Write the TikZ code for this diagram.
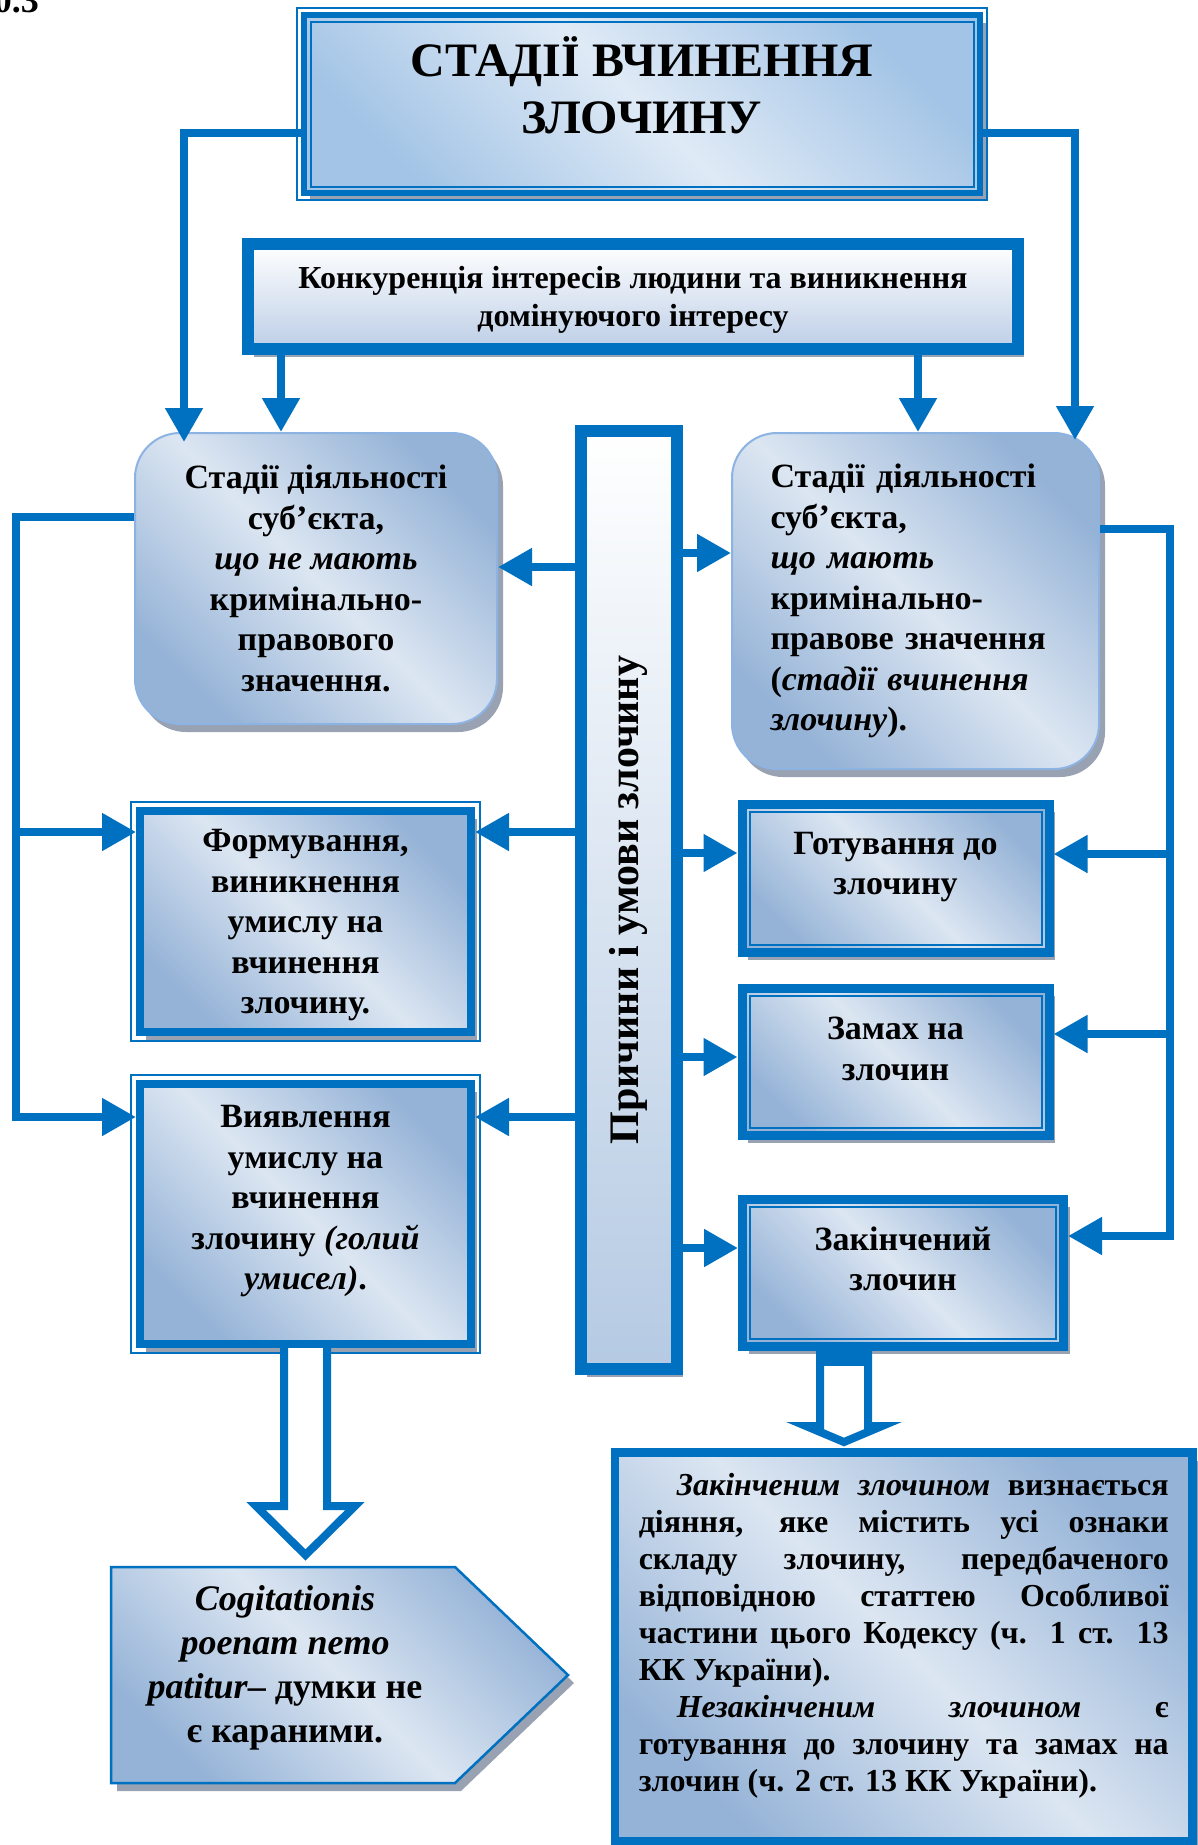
\documentclass[tikz,border=0pt]{standalone}
\usepackage{fontspec}
\setmainfont{Liberation Serif}
\usepackage{graphicx}
\usetikzlibrary{arrows.meta,shadows}

\definecolor{lineblue}{HTML}{0070C0}
\definecolor{edgeblue}{HTML}{8DB3E2}
\definecolor{deepfill}{HTML}{95B3D7}
\definecolor{paleblue}{HTML}{DCE6F2}
\definecolor{skyfill}{HTML}{A3C4E6}
\definecolor{skypale}{HTML}{DFEAF6}
\definecolor{konfill}{HTML}{BDCEE7}
\definecolor{shadowgray}{HTML}{98A2B2}

\tikzset{
  bluegrad/.style={left color=deepfill, right color=deepfill, middle color=paleblue, shading angle=-45},
  boxshadow/.style={drop shadow={shadow xshift=6pt, shadow yshift=-8pt, opacity=1, fill=shadowgray}},
  bodytext/.style={font=\bfseries\fontsize{34}{40.5}\selectfont, align=center, inner sep=0pt},
  stagebox/.style={bodytext, draw=edgeblue, line width=2pt, rounded corners=45pt, bluegrad, boxshadow},
  stepbox/.style={bodytext, draw=lineblue, line width=8pt, bluegrad, boxshadow},
  crimebox/.style={bodytext, draw=lineblue, line width=9pt, bluegrad, boxshadow},
  thinframe/.style={draw=lineblue, line width=2pt},
  conn/.style={draw=lineblue, line width=8pt, line join=miter, -{Triangle[length=34pt,width=36pt]}},
  hollow/.style={draw=lineblue, fill=white, line width=8pt, line join=miter}
}

\begin{document}
\begin{tikzpicture}[x=1pt,y=-1pt]
\useasboundingbox (0,0) rectangle (1198,1845);
\fill[white] (0,0) rectangle (1198,1845);

\node[anchor=base east, inner sep=0pt, font=\bfseries\fontsize{36}{40}\selectfont] (num) at (39,12) {0.3};

% title and the competing interests
\node[bodytext, font=\bfseries\fontsize{48}{57}\selectfont, draw=lineblue, line width=6pt,
  left color=skyfill, right color=skyfill, middle color=skypale, shading angle=-45, boxshadow,
  minimum width=676pt, minimum height=178pt, text depth=37pt] (ttl) at (642,104) {СТАДІЇ ВЧИНЕННЯ\\ЗЛОЧИНУ};
\draw[thinframe] ([shift={(-4,-4)}]ttl.north west) rectangle ([shift={(4,4)}]ttl.south east);
\draw[thinframe] ([shift={(9.5,9.5)}]ttl.north west) rectangle ([shift={(-9.5,-9.5)}]ttl.south east);

\node[bodytext, font=\bfseries\fontsize{32}{38}\selectfont, draw=lineblue, line width=12pt,
  top color=white, bottom color=konfill, boxshadow, text depth=0pt,
  minimum width=770pt, minimum height=105pt] (kon) at (633,296.5) {Конкуренція інтересів людини та виникнення\\домінуючого інтересу};

% stages of activity
\node[stagebox, minimum width=362pt, minimum height=291pt] (stL) at (316,578.5)
  {Стадії діяльності\\суб’єкта,\\\textit{що не мають}\\кримінально-\\правового\\значення.};
\node[stagebox, minimum width=367pt, minimum height=336pt, text width=290pt, align=left] (stR) at (915.5,601)
  {Стадії діяльності\\суб’єкта,\\\textit{що мають}\\кримінально-\\правове значення\\(\textit{стадії вчинення}\\\textit{злочину}).};

\node[draw=lineblue, line width=12pt, top color=white, bottom color=deepfill!70, boxshadow,
  minimum width=95.5pt, minimum height=938pt, inner sep=0pt,
  font=\bfseries\fontsize{42}{48}\selectfont] (cen) at (628.75,900) {\rotatebox{90}{Причини і умови злочину}};

\node[stepbox, minimum width=331pt, minimum height=221pt, text depth=-6.5pt] (frm) at (305.5,921.5)
  {Формування,\\виникнення\\умислу на\\вчинення\\злочину.};
\node[stepbox, minimum width=331pt, minimum height=260pt, text depth=33pt] (viy) at (305.5,1214)
  {Виявлення\\умислу на\\вчинення\\злочину \textit{(голий}\\\textit{умисел)}.};
\foreach \b in {frm,viy}
  \draw[thinframe] ([shift={(-5,-5)}]\b.north west) rectangle ([shift={(5,5)}]\b.south east);

\node[crimebox, minimum width=307pt, minimum height=148pt, text depth=29pt] (got) at (895.5,878) {Готування до\\злочину};
\node[crimebox, minimum width=307pt, minimum height=147pt, text depth=26pt] (zam) at (895.5,1061.5) {Замах на\\злочин};
\node[crimebox, minimum width=321pt, minimum height=147pt, text depth=28pt] (zak) at (903,1272.5) {Закінчений\\злочин};
\foreach \b in {got,zam,zak}
  \draw[thinframe] ([shift={(12,12)}]\b.north west) rectangle ([shift={(-12,-12)}]\b.south east);

% bottom notes
\node[stepbox, line width=8.5pt, minimum width=577.5pt, minimum height=389pt, text width=530pt, align=justify,
  font=\bfseries\fontsize{32}{37}\selectfont] (txt) at (903.75,1647)
  {\tolerance=10000 \hyphenpenalty=10000
   \noindent\hspace*{38pt}\textit{Закінченим злочином} визнається\linebreak
   діяння, яке містить усі ознаки\linebreak
   складу злочину, передбаченого\linebreak
   відповідною статтею Особливої\linebreak
   частини цього Кодексу (ч. 1 ст. 13\linebreak
   КК України).\par
   \noindent\hspace*{38pt}\textit{Незакінченим злочином} є\linebreak
   готування до злочину та замах на\linebreak
   злочин (ч. 2 ст. 13 КК України).\par\kern22pt};

\draw[draw=lineblue, line width=2.5pt, bluegrad, boxshadow]
  (111,1567) -- (455,1567) -- (568,1675) -- (455,1783) -- (111,1783) -- cycle;
\node[bodytext, font=\bfseries\fontsize{36}{44}\selectfont] (cog) at (285,1668)
  {\textit{Cogitationis}\\\textit{poenam nemo}\\\textit{patitur}– думки не\\є караними.};

% connectors
\draw[conn, shorten >=-10pt] (ttl.west |- 0,133) -| (stL.north -| 184,0);
\draw[conn, shorten >=-8pt] (ttl.east |- 0,133) -| (stR.north -| 1075,0);
\draw[conn] (kon.south -| 281,0) -- (stL.north -| 281,0);
\draw[conn] (kon.south -| 918,0) -- (stR.north -| 918,0);

\coordinate (lbus) at (16,1117);
\coordinate (rbus) at (1170,1236);
\draw[conn] (stL.west |- 0,517) -| (lbus) -- (viy.west |- lbus);
\draw[conn] (lbus |- 0,832) -- (frm.west |- 0,832);
\draw[conn] (stR.east |- 0,529) -| (rbus) -- (zak.east |- rbus);
\draw[conn] (rbus |- 0,854) -- (got.east |- 0,854);
\draw[conn] (rbus |- 0,1034) -- (zam.east |- 0,1034);

\foreach \t/\y in {stL/567,frm/832,viy/1117}
  \draw[conn] (cen.west |- 0,\y) -- (\t.east |- 0,\y);
\foreach \t/\y in {stR/553,got/853,zam/1057,zak/1248}
  \draw[conn] (cen.east |- 0,\y) -- (\t.west |- 0,\y);

% hollow arrows down
\filldraw[hollow] ([xshift=-21.5pt]viy.south) -- ++(0,158) -- ++(-28,0) -- ++(49.5,49)
  -- ++(49.5,-49) -- ++(-28,0) -- ([xshift=21.5pt]viy.south);
\coordinate (zdrop) at (zak.south -| 844,0);
\filldraw[hollow] ([xshift=-24pt]zdrop) -- ++(0,75.5) -- ++(-14,0) -- ++(38,16)
  -- ++(38,-16) -- ++(-14,0) -- ([xshift=24pt]zdrop);
\fill[lineblue] ([xshift=-28pt,yshift=8pt]zdrop) rectangle ([xshift=28pt,yshift=-15pt]zdrop);
\end{tikzpicture}
\end{document}
